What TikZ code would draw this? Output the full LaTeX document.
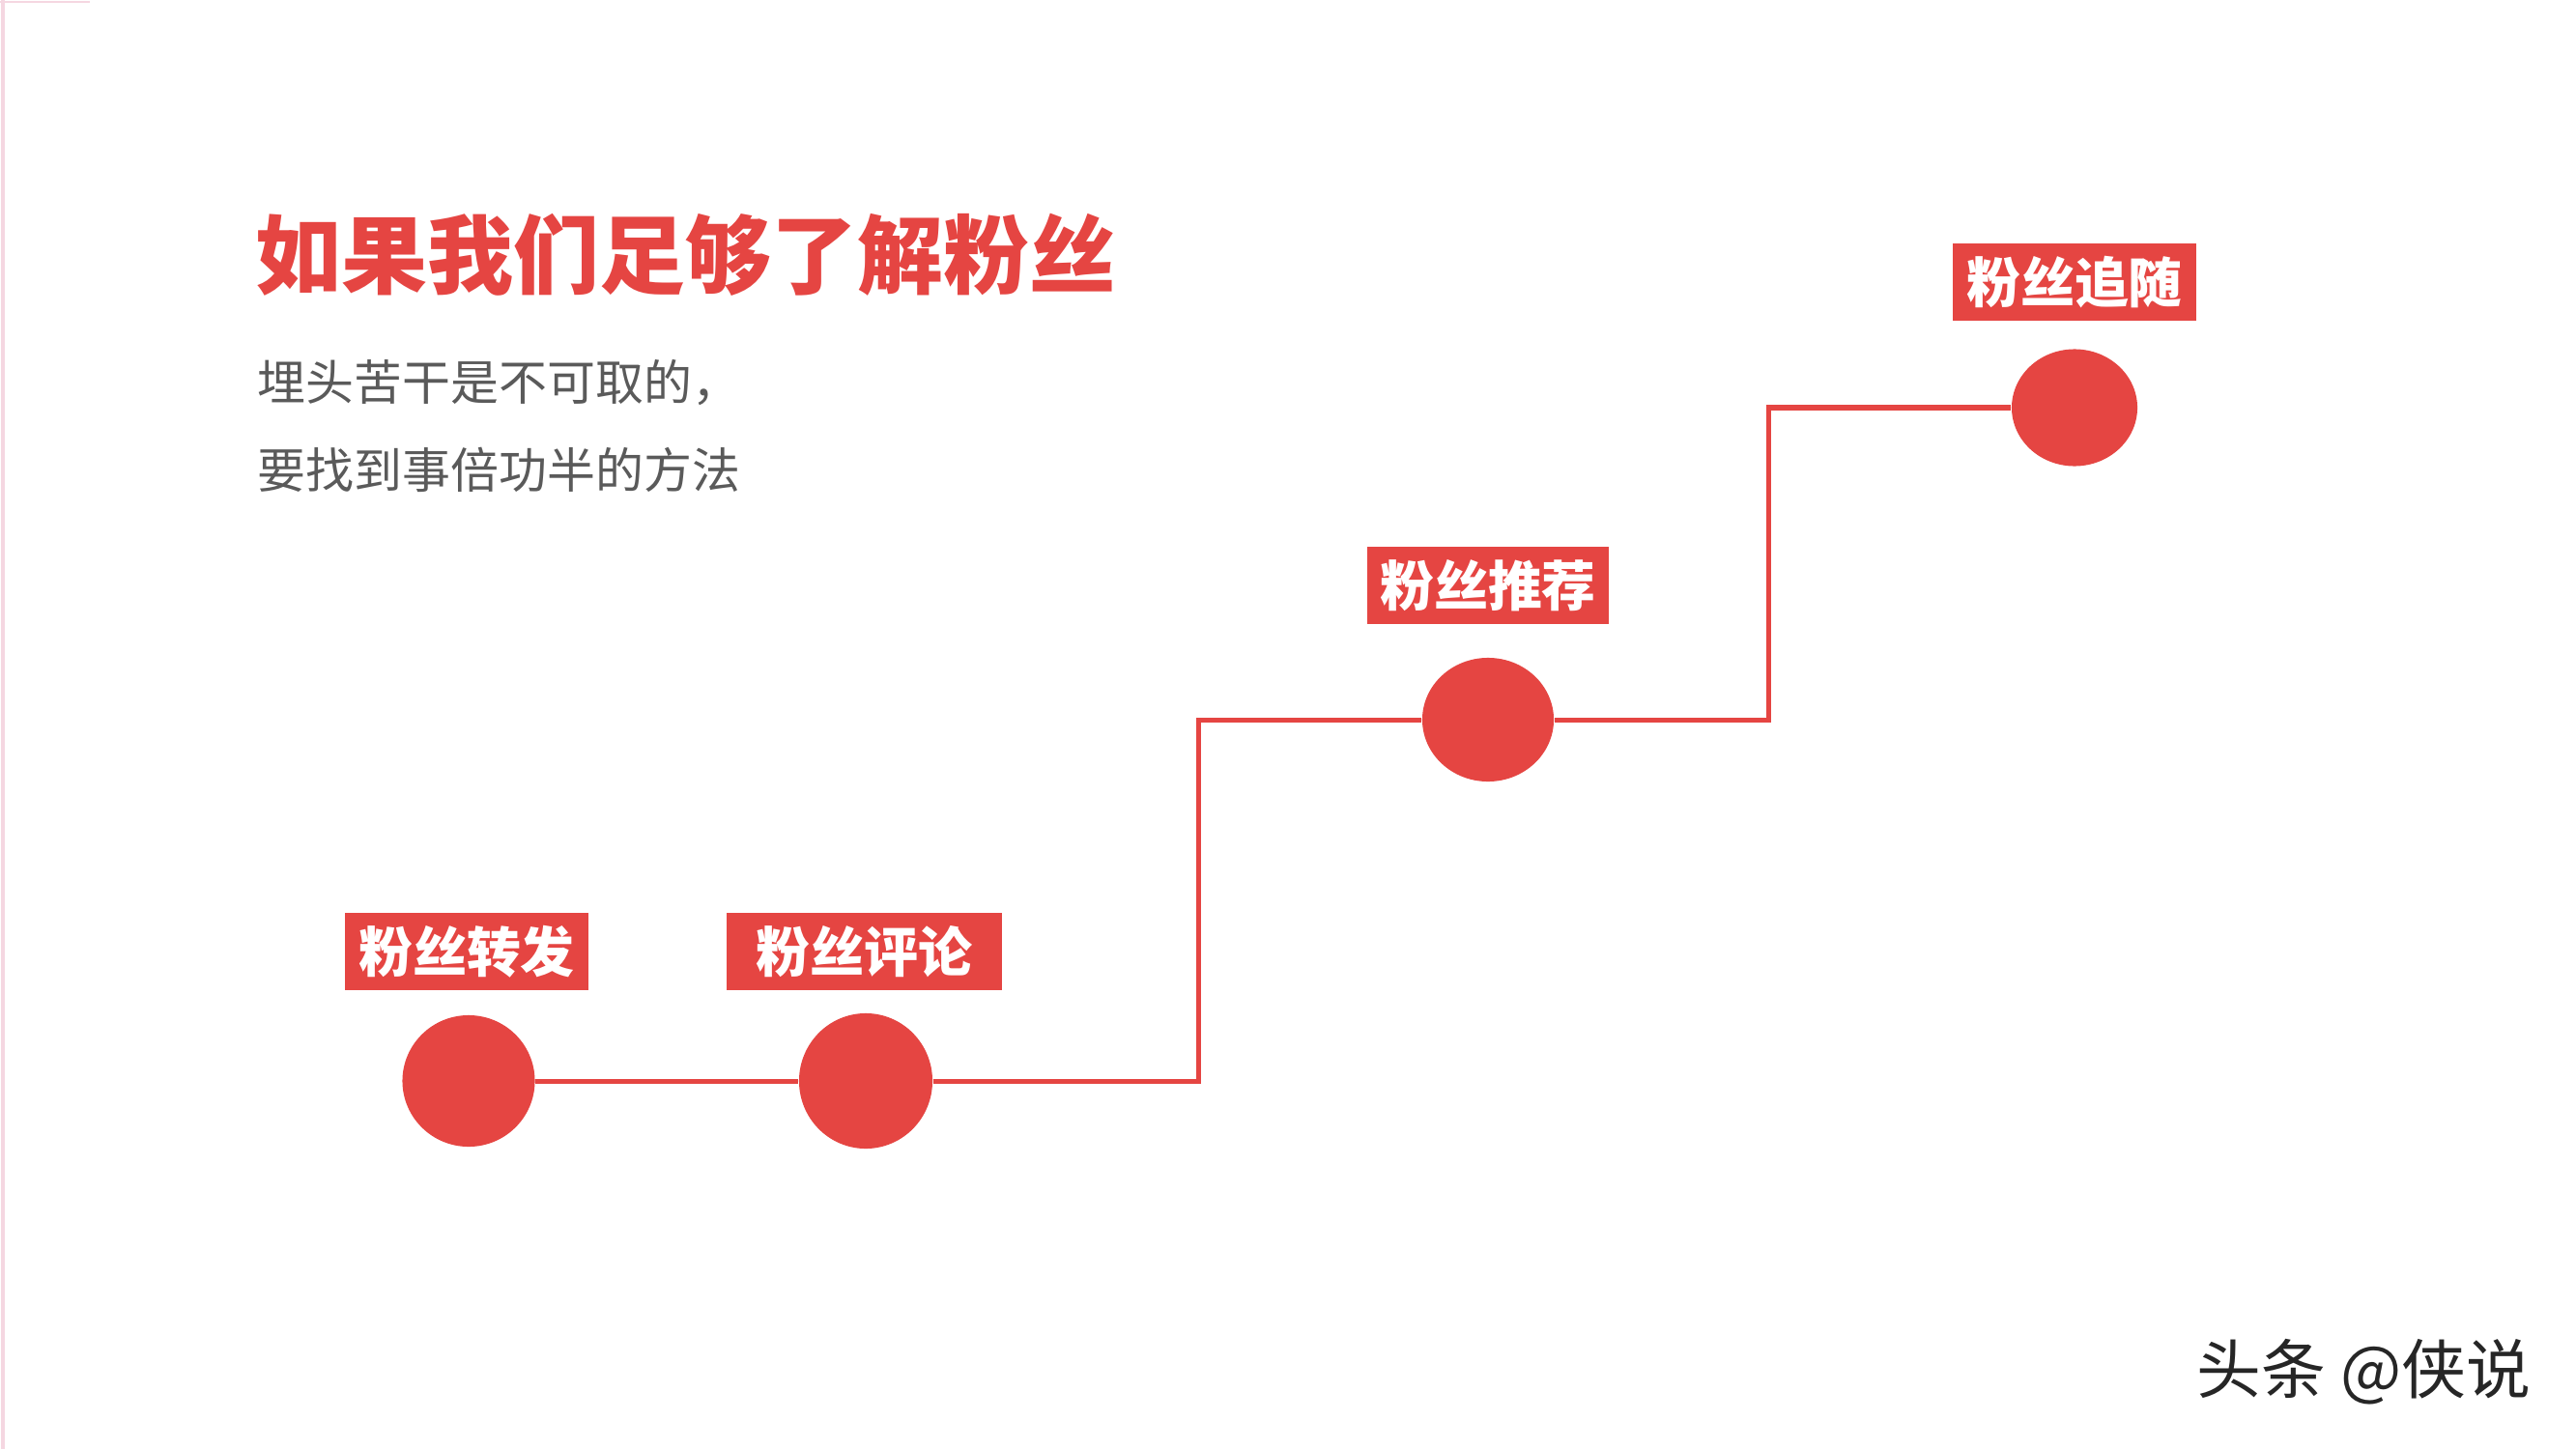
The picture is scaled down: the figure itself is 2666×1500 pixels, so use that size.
\documentclass[tikz,border=0pt]{standalone}
\usepackage{fontspec}
\usetikzlibrary{shapes.geometric}
\newfontfamily\cjk{Noto Sans CJK SC}
\definecolor{fanred}{RGB}{229,69,66}
\definecolor{subgray}{RGB}{90,90,90}
\definecolor{edgepink}{RGB}{245,215,225}
\begin{document}
\begin{tikzpicture}[x=0.01cm,y=-0.01cm,
  dot/.style={ellipse, fill=fanred, inner sep=0pt},
  tag/.style={fill=fanred, text=white, inner sep=0pt, minimum height=0.8cm,
    font=\cjk\bfseries\fontsize{15.9pt}{18pt}\selectfont},
  link/.style={draw=fanred, line width=0.05cm},
]
\path[fill=white] (0,0) rectangle (2666,1500);
\useasboundingbox (0,0) rectangle (2666,1500);
\draw[edgepink, line width=0.03cm] (3,0) -- (3,1500);
\draw[edgepink, line width=0.02cm] (0,2) -- (93,2);

% title and subtitle
\node[anchor=west, inner sep=0pt, text=fanred, font=\cjk\bfseries\fontsize{25.3pt}{30pt}\selectfont] (title) at (264,264) {如果我们足够了解粉丝};
\node[anchor=west, inner sep=0pt, text=subgray, font=\cjk\fontsize{14.2pt}{17pt}\selectfont] (sub1) at (266,396) {埋头苦干是不可取的，};
\node[anchor=west, inner sep=0pt, text=subgray, font=\cjk\fontsize{14.2pt}{17pt}\selectfont] (sub2) at (266,486) {要找到事倍功半的方法};

% connector corners
\coordinate (k1) at (1240,1119);
\coordinate (k2) at (1240,745);
\coordinate (k3) at (1830,745);
\coordinate (k4) at (1830,422);

% circles
\node[dot, minimum width=1.37cm, minimum height=1.36cm] (c1) at (485,1119) {};
\node[dot, minimum width=1.38cm, minimum height=1.40cm] (c2) at (896,1119) {};
\node[dot, minimum width=1.36cm, minimum height=1.28cm] (c3) at (1540,745) {};
\node[dot, minimum width=1.30cm, minimum height=1.21cm] (c4) at (2147,422) {};

% connectors
\draw[link] (c1.east) -- (c2.west);
\draw[link] (c2.east) -- (k1) -- (k2) -- (c3.west);
\draw[link] (c3.east) -- (k3) -- (k4) -- (c4.west);

% labels
\node[tag, minimum width=2.52cm] (t1) at (483,985) {粉丝转发};
\node[tag, minimum width=2.85cm] (t2) at (894.5,985) {粉丝评论};
\node[tag, minimum width=2.50cm] (t3) at (1540,606) {粉丝推荐};
\node[tag, minimum width=2.51cm] (t4) at (2147,292) {粉丝追随};

% watermark
\node[anchor=east, inner sep=0pt, text=black!85, font=\cjk\fontsize{19pt}{22pt}\selectfont] (wm) at (2620,1420) {头条 @侠说};
\end{tikzpicture}
\end{document}
